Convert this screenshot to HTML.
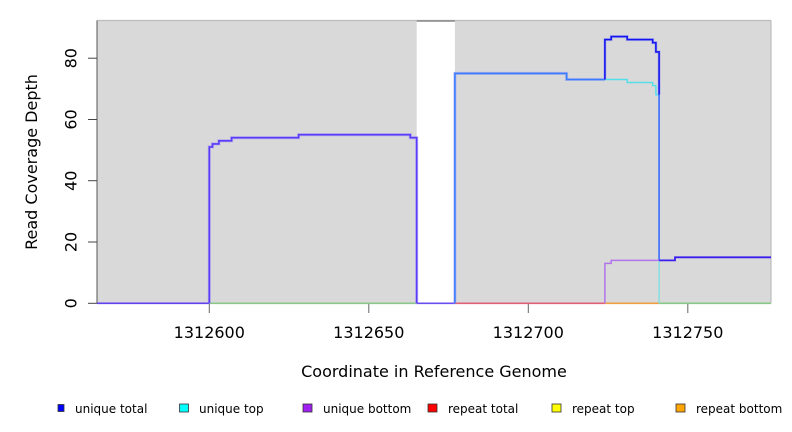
<!DOCTYPE html>
<html>
<head>
<meta charset="utf-8">
<style>
  html,body{margin:0;padding:0;background:#fff;}
  svg{display:block;}
  text{font-family:"DejaVu Sans","Liberation Sans",sans-serif;fill:#000;}
</style>
</head>
<body>
<svg width="792" height="432" viewBox="0 0 792 432" xmlns="http://www.w3.org/2000/svg">
  <!-- plot background -->
  <rect x="97" y="20.5" width="674" height="282.8" fill="#d9d9d9"/>
  <rect x="416.7" y="20.5" width="38.2" height="282.8" fill="#ffffff"/>
  <!-- borders -->
  <line x1="97" y1="20.5" x2="771" y2="20.5" stroke="#bdbdbd" stroke-width="1.2"/>
  <line x1="416.7" y1="21" x2="454.9" y2="21" stroke="#888" stroke-width="1.4"/>
  <line x1="771" y1="20.5" x2="771" y2="303.3" stroke="#bdbdbd" stroke-width="1.2"/>
  <line x1="97" y1="20.5" x2="97" y2="303.3" stroke="#555" stroke-width="1"/>

  <!-- y ticks -->
  <g stroke="#444" stroke-width="1">
    <line x1="88" y1="303.3" x2="97" y2="303.3"/>
    <line x1="88" y1="242" x2="97" y2="242"/>
    <line x1="88" y1="180.7" x2="97" y2="180.7"/>
    <line x1="88" y1="119.5" x2="97" y2="119.5"/>
    <line x1="88" y1="58.2" x2="97" y2="58.2"/>
  </g>
  <!-- x ticks -->
  <g stroke="#666" stroke-width="1">
    <line x1="209.3" y1="303.3" x2="209.3" y2="313"/>
    <line x1="368.8" y1="303.3" x2="368.8" y2="313"/>
    <line x1="528.3" y1="303.3" x2="528.3" y2="313"/>
    <line x1="687.8" y1="303.3" x2="687.8" y2="313"/>
  </g>

  <!-- zero lines -->
  <g stroke-width="1.6" fill="none">
    <line x1="97" y1="303.3" x2="209.3" y2="303.3" stroke="#6040f0"/>
    <line x1="209.3" y1="303.3" x2="416.7" y2="303.3" stroke="#8cc88c"/>
    <line x1="416.7" y1="303.3" x2="454.9" y2="303.3" stroke="#6a4cf0"/>
    <line x1="454.9" y1="303.3" x2="604.9" y2="303.3" stroke="#e0607a"/>
    <line x1="604.9" y1="303.3" x2="659.1" y2="303.3" stroke="#f0a040"/>
    <line x1="659.1" y1="303.3" x2="771" y2="303.3" stroke="#88c888"/>
  </g>

  <!-- series -->
  <g fill="none" stroke-linejoin="miter">
    <!-- left region total = bottom -->
    <path d="M209.3,303.3 V146.9 H212.5 V143.9 H218.9 V140.8 H231.6 V137.7 H298.6 V134.7 H410.3 V137.7 H416.7 V303.3" stroke="#a08cf8" stroke-width="3" opacity="0.6"/>
    <path d="M209.3,303.3 V146.9 H212.5 V143.9 H218.9 V140.8 H231.6 V137.7 H298.6 V134.7 H410.3 V137.7 H416.7 V303.3" stroke="#5a3cf8" stroke-width="1.6"/>
    <!-- right region total = top -->
    <path d="M454.9,303.3 V73.4 H566.6 V79.5 H604.9" stroke="#9aa0f4" stroke-width="3" opacity="0.6"/>
    <path d="M454.9,303.3 V73.4 H566.6 V79.5 H604.9" stroke="#3a7cff" stroke-width="1.6"/>
    <!-- cyan only -->
    <path d="M604.9,79.5 H627.2 V82.5 H652.7 V85.6 H655.9 V94.8 H659.1" stroke="#55e0e8" stroke-width="1.5"/>
    <line x1="659.1" y1="260.4" x2="659.1" y2="303.3" stroke="#80e0e0" stroke-width="1.4"/>
    <!-- total only -->
    <path d="M604.9,79.5 V39.6 H611.2 V36.6 H627.2 V39.6 H652.7 V42.7 H655.9 V51.9 H659.1 V94.8" stroke="#9a9cf0" stroke-width="3" opacity="0.6"/>
    <path d="M604.9,79.5 V39.6 H611.2 V36.6 H627.2 V39.6 H652.7 V42.7 H655.9 V51.9 H659.1 V94.8" stroke="#1414f0" stroke-width="1.6"/>
    <line x1="659.1" y1="94.8" x2="659.1" y2="260.4" stroke="#4a78f8" stroke-width="1.8"/>
    <!-- purple bottom only -->
    <path d="M604.9,303.3 V263.4 H611.2 V260.4 H659.1" stroke="#b274ea" stroke-width="1.5"/>
    <!-- total = bottom right -->
    <path d="M659.1,260.4 H675 V257.3 H771" stroke="#3a1ef0" stroke-width="1.8"/>
  </g>

  <!-- tick labels -->
  <g font-size="16" text-anchor="middle">
    <text x="209.3" y="338">1312600</text>
    <text x="368.8" y="338">1312650</text>
    <text x="528.3" y="338">1312700</text>
    <text x="687.8" y="338">1312750</text>
  </g>
  <g font-size="16" text-anchor="middle">
    <text transform="translate(76.5,303.3) rotate(-90)">0</text>
    <text transform="translate(76.5,242) rotate(-90)">20</text>
    <text transform="translate(76.5,180.7) rotate(-90)">40</text>
    <text transform="translate(76.5,119.5) rotate(-90)">60</text>
    <text transform="translate(76.5,58.2) rotate(-90)">80</text>
  </g>

  <!-- axis titles -->
  <text x="434" y="377" font-size="16" text-anchor="middle">Coordinate in Reference Genome</text>
  <text transform="translate(37,162) rotate(-90)" font-size="16" text-anchor="middle">Read Coverage Depth</text>

  <!-- legend -->
  <g stroke="#333" stroke-width="0.8">
    <rect x="58" y="404.5" width="6" height="7" fill="#0000ff"/>
    <rect x="179.5" y="404" width="9" height="8" fill="#00ffff"/>
    <rect x="303" y="404" width="9" height="8" fill="#a020f0"/>
    <rect x="428" y="404" width="9" height="8" fill="#ff0000"/>
    <rect x="552" y="404" width="9" height="8" fill="#ffff00"/>
    <rect x="676" y="404" width="9" height="8" fill="#ffa500"/>
  </g>
  <g font-size="12">
    <text x="75" y="413">unique total</text>
    <text x="199" y="413">unique top</text>
    <text x="323" y="413">unique bottom</text>
    <text x="448" y="413">repeat total</text>
    <text x="572" y="413">repeat top</text>
    <text x="696" y="413">repeat bottom</text>
  </g>
</svg>
</body>
</html>
